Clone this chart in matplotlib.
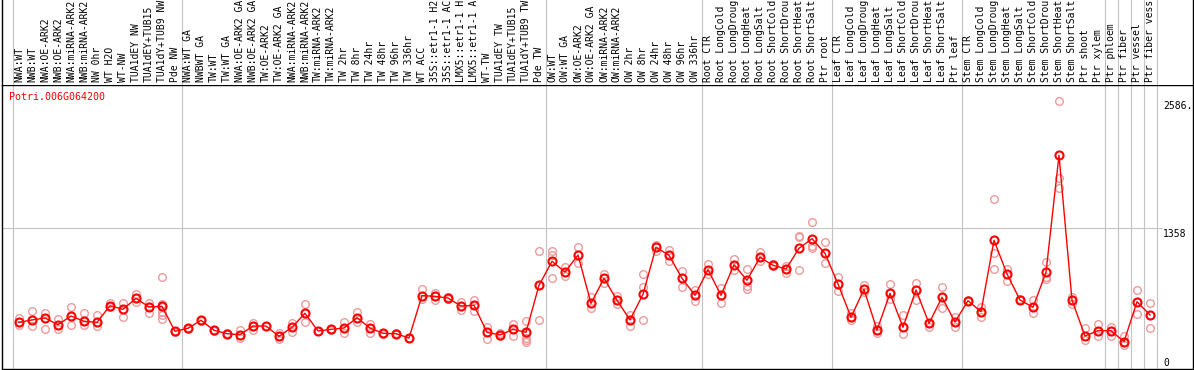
import matplotlib
matplotlib.use("Agg")
import matplotlib.pyplot as plt

# sample names, one column each
labels = [
    "NWA:WT", "NWB:WT", "NWA:OE-ARK2", "NWB:OE-ARK2", "NWA:miRNA-ARK2", "NWB:miRNA-ARK2",
    "NW 0hr", "WT H2O", "WT-NW", "TUA1dEY NW", "TUA1dEY+TUB15 NW", "TUA1dY+TUB9 NW", "Pde NW",
    "NWA:WT GA", "NWBWT GA", "TW:WT", "TW:WT GA", "NWA:OE-ARK2 GA", "NWB:OE-ARK2 GA",
    "TW:OE-ARK2", "TW:OE-ARK2 GA", "NWA:miRNA-ARK2", "NWB:miRNA-ARK2", "TW:miRNA-ARK2",
    "TW:miRNA-ARK2", "TW 2hr", "TW 8hr", "TW 24hr", "TW 48hr", "TW 96hr", "TW 336hr",
    "WT ACC", "35S::etr1-1 H2O", "35S::etr1-1 ACC", "LMX5::etr1-1 H2O", "LMX5::etr1-1 ACC",
    "WT-TW", "TUA1dEY TW", "TUA1dEY+TUB15 TW", "TUA1dY+TUB9 TW", "Pde TW",
    "OW:WT", "OW:WT GA", "OW:OE-ARK2", "OW:OE-ARK2 GA", "OW:miRNA-ARK2", "OW:miRNA-ARK2",
    "OW 2hr", "OW 8hr", "OW 24hr", "OW 48hr", "OW 96hr", "OW 336hr",
    "Root CTR", "Root LongCold", "Root LongDrought", "Root LongHeat", "Root LongSalt",
    "Root ShortCold", "Root ShortDrought", "Root ShortHeat", "Root ShortSalt", "Ptr root",
    "Leaf CTR", "Leaf LongCold", "Leaf LongDrought", "Leaf LongHeat", "Leaf LongSalt",
    "Leaf ShortCold", "Leaf ShortDrought", "Leaf ShortHeat", "Leaf ShortSalt", "Ptr leaf",
    "Stem CTR", "Stem LongCold", "Stem LongDrought", "Stem LongHeat", "Stem LongSalt",
    "Stem ShortCold", "Stem ShortDrought", "Stem ShortHeat", "Stem ShortSalt", "Ptr shoot",
    "Ptr xylem", "Ptr phloem", "Ptr fiber", "Ptr vessel", "Ptr fiber vessel",
]

# mean expression per sample
means = [
    443, 466, 485, 420, 504, 453, 443, 604, 569, 676, 592, 598, 356,
    385, 463, 366, 333, 323, 407, 407, 307, 395, 530, 359, 375, 388, 488, 388,
    336, 333, 291, 702, 695, 679, 601, 608, 346, 320, 375, 346, 802,
    1035, 931, 1096, 627, 870, 657, 466, 715, 1171, 1093, 870, 705,
    954, 705, 1002, 851, 1074, 996, 960, 1161, 1254, 1112,
    815, 492, 763, 368, 724, 395, 757, 433, 686, 446,
    653, 546, 1239, 912, 660, 589, 928, 2063, 657, 310,
    362, 362, 255, 643, 514,
]

# individual replicates per sample
replicates = [
    [482, 443, 417], [553, 466, 407], [536, 485, 375], [472, 420, 381], [592, 504, 420],
    [533, 453, 414], [514, 443, 404], [633, 604, 595], [630, 569, 498], [721, 676, 640],
    [633, 592, 530], [880, 624, 595, 546, 514, 472], [360, 356, 352],
    [390, 385, 380], [466, 463, 460], [370, 366, 360], [336, 333, 330], [368, 323, 288],
    [433, 407, 368], [410, 407, 404], [336, 307, 278], [440, 395, 352], [618, 530, 443],
    [362, 359, 356], [378, 375, 372], [446, 388, 343], [540, 488, 443], [427, 388, 343],
    [340, 336, 332], [336, 333, 330], [294, 291, 288], [763, 702, 666], [730, 695, 660],
    [692, 679, 669], [637, 601, 560], [660, 608, 553], [401, 346, 278], [336, 320, 307],
    [427, 375, 314], [459, 336, 290, 270, 255], [1138, 802, 463],
    [1135, 1099, 876], [980, 931, 889], [1177, 1096, 1021], [689, 627, 579], [912, 870, 828],
    [702, 657, 624], [514, 466, 407], [912, 786, 466], [1196, 1171, 1135], [1145, 1093, 1041],
    [941, 870, 783], [757, 705, 653],
    [1012, 954, 912], [773, 705, 631], [1057, 1002, 951], [957, 799, 766], [1128, 1074, 1038],
    [1010, 996, 985], [990, 960, 925], [1281, 1271, 951], [1413, 1183, 1167], [1222, 1112, 1015],
    [886, 815, 744], [536, 492, 466], [802, 763, 740], [407, 369, 343], [815, 724, 666],
    [514, 395, 330], [828, 757, 660], [440, 433, 401], [783, 686, 579], [492, 446, 395],
    [660, 653, 648], [595, 546, 492], [1636, 1119, 957], [957, 912, 847], [665, 660, 655],
    [660, 589, 537], [1031, 886, 860], [2586, 1840, 1743], [692, 657, 621], [385, 310, 272],
    [427, 362, 310], [395, 362, 310], [310, 255, 223], [757, 643, 524], [627, 514, 385],
]

# where the gray separators go (between columns)
separators = [-0.5, 12.5, 40.5, 52.5, 62.5, 72.5, 83.5, 84.5, 85.5, 86.5, 87.5]
gene = "Potri.006G064200"
max_label = "2586."
mid_value = 1358

W, H = 1194, 370
mono = "DejaVu Sans Mono"
gray = "#c3c3c3"
FS = 7.0
MAX_CHARS = 14  # the header only has room for this many characters

fig = plt.figure(figsize=(W / 100, H / 100), dpi=100)

# column i sits at pixel 19 + 13 * i
left_px, right_px = 1.5, 1192.7
xlim = ((left_px - 19) / 13, (right_px - 19) / 13)
top_px, bottom_px = 85, 368.7

ax = fig.add_axes([left_px / W, (H - bottom_px) / H, (right_px - left_px) / W, (bottom_px - top_px) / H])
lab = fig.add_axes([left_px / W, (H - top_px) / H, (right_px - left_px) / W, top_px / H])

for a in (ax, lab):
    a.set_xlim(*xlim)
    a.set_xticks([])
    a.set_yticks([])
    for s in a.spines.values():
        s.set_linewidth(1.0)
        s.set_color("black")
    for sx in separators:
        a.axvline(sx, color=gray, lw=0.8, zorder=0)

lab.spines["top"].set_visible(False)
lab.spines["bottom"].set_visible(False)
lab.set_ylim(0, top_px)

for i, name in enumerate(labels):
    lab.text(i, 3, name[:MAX_CHARS].rstrip(), rotation=90, ha="center", va="bottom",
             family=mono, fontsize=FS)

ax.set_ylim(-6.8, 2745)
ax.hlines(mid_value, xlim[0], 87.9, color=gray, lw=0.8, zorder=0)

xs = list(range(len(labels)))
for i, reps in enumerate(replicates):
    ax.plot([i] * len(reps), reps, linestyle="none", marker="o", ms=5.5,
            mfc="none", mec="#ee9a9a", mew=1.0, zorder=2)
ax.plot(xs, means, color="red", lw=1.0, zorder=3)
ax.plot(xs, means, linestyle="none", marker="o", ms=5.8, mfc="none",
        mec="red", mew=1.5, zorder=4)

# value labels on the right
ax.text(88.0, 2586, max_label, ha="left", va="top", family=mono, fontsize=FS)
ax.text(88.0, mid_value - 8, str(mid_value), ha="left", va="top", family=mono, fontsize=FS)
ax.text(88.0, 20, "0", ha="left", va="baseline", family=mono, fontsize=FS)

fig.text(9 / W, 1 - 97 / H, gene, color="red", ha="left", va="center",
         family=mono, fontsize=7.2)

fig.savefig("out.png", dpi=100)
